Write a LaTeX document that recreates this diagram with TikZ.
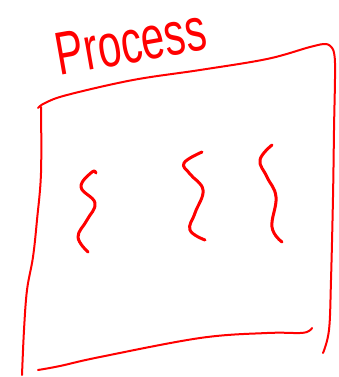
\documentclass[tikz,border=0pt]{standalone}
\usepackage{fontspec}
\setmainfont{Liberation Sans}
\begin{document}
\begin{tikzpicture}[x=1pt,y=-1pt,
  pen/.style={draw=red, line width=2pt, line cap=round, line join=round},
  thread/.style={draw=red, line width=3pt, line cap=round, line join=round},
  label/.style={text=red, inner sep=0pt, font=\fontsize{42}{42}\selectfont}]
\useasboundingbox (0,0) rectangle (338,377);
% title
\node[label, rotate=10, yscale=1.45] (title) at (131,42) {Process};
% box: top edge
\draw[pen] plot[smooth, tension=0.6] coordinates {(38,108) (45,103) (67,95) (133,80) (200,70) (267,59) (310,47) (326,44) (332,48)};
% right edge
\draw[pen] plot[smooth, tension=0.6] coordinates {(332,48) (335,63) (334,130) (333,197) (331,280) (329,330) (323,353)};
% left edge
\draw[pen] plot[smooth, tension=0.6] coordinates {(41,107) (41,173) (37,220) (33,257) (27,290) (24,330) (22,375)};
% bottom edge
\draw[pen] plot[smooth, tension=0.6] coordinates {(38,370) (60,366) (100,357) (200,338) (267,333) (300,333) (309,331) (312,328)};
% threads
\draw[thread] plot[smooth, tension=0.7] coordinates {(96,173) (92,172) (81,187) (95,203) (87,220) (78,237) (88,252)};
\draw[thread] plot[smooth, tension=0.7] coordinates {(202,152) (184,163) (190,174) (203,190) (195,213) (190,230) (205,240)};
\draw[thread] plot[smooth, tension=0.7] coordinates {(272,145) (260,160) (267,177) (276,197) (272,227) (282,242)};
\end{tikzpicture}
\end{document}
